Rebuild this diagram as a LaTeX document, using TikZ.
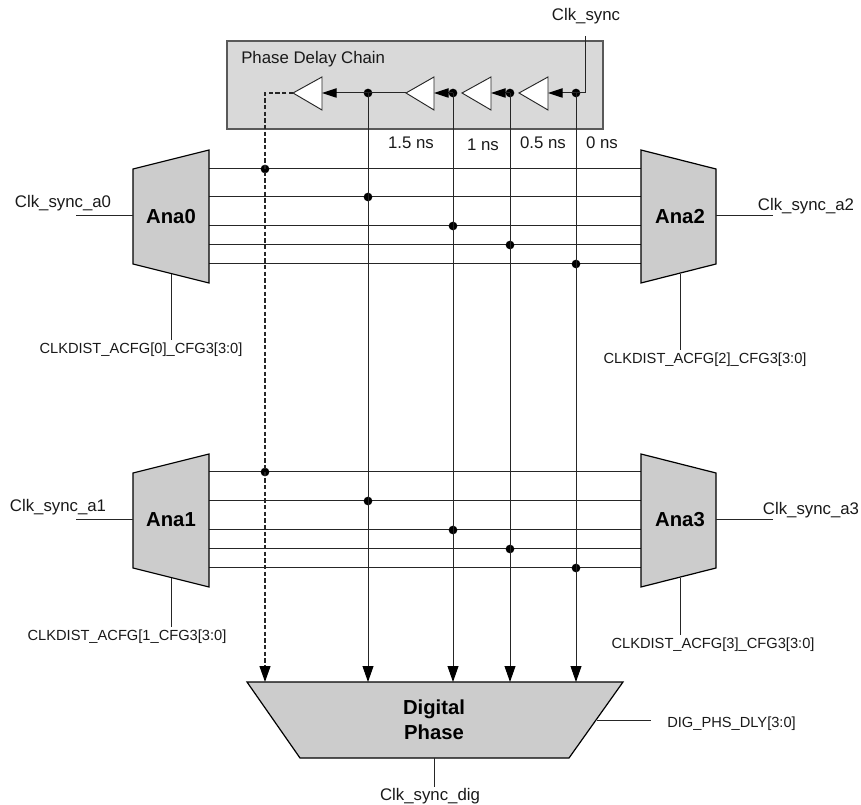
\documentclass[tikz,border=0pt]{standalone}
\usepackage{fontspec}
\setmainfont{Liberation Sans}
\usetikzlibrary{arrows.meta}
\tikzset{
  wire/.style={line width=0.75pt,black!85},
  dot/.style={circle,fill=black,inner sep=0pt,minimum size=6.5pt},
  lbl/.style={font=\fontsize{12.6}{15}\selectfont,inner sep=0pt,text=black!90},
  cfg/.style={font=\fontsize{11}{13}\selectfont,inner sep=0pt,text=black!90},
  muxbody/.style={fill=black!20,draw=black,line width=0.9pt},
  muxname/.style={font=\fontsize{15.2}{18.7}\selectfont\bfseries,inner sep=0pt,align=center},
  buf/.style={fill=white,draw=black!85,line width=0.7pt},
  feed/.style={wire,-{Triangle[length=12pt,width=8.2pt,color=black,fill=black]}},
  tap/.style={wire,-{Triangle[length=11pt,width=7pt,color=black,fill=black]}}
}
\begin{document}
\begin{tikzpicture}[x=0.75pt,y=-0.75pt]
\useasboundingbox (0,0) rectangle (861,805);
% delay chain box
\draw[fill=black!15,draw=black!65,line width=0.9pt] (227,41) rectangle (603,129);
\node[lbl,anchor=west] (chainname) at (241,59) {Phase Delay Chain};
% taps: index/x/y top/y bottom
\foreach \i/\xx/\ya/\yb in {0/265/169/472,1/368/197/501,2/453/226/530,3/510/245/549,4/576/264/568}{
  \coordinate (ana0out\i) at (209,\ya);
  \coordinate (ana2in\i) at (641,\ya);
  \coordinate (ana1out\i) at (209,\yb);
  \coordinate (ana3in\i) at (641,\yb);
  \coordinate (digin\i) at (\xx,682);
  \draw[wire] (ana0out\i) -- (ana2in\i);
  \draw[wire] (ana1out\i) -- (ana3in\i);
  \node[dot] (topdot\i) at (\xx,\ya) {};
  \node[dot] (botdot\i) at (\xx,\yb) {};
}
% buffers
\foreach \i/\tip/\base in {0/293/322,1/406/434,2/462/491,3/519/548}{
  \draw[buf] (\tip,93) coordinate (buftip\i) -- (\base,77) -- (\base,110) -- cycle;
  \coordinate (bufin\i) at (\base,93);
}
\foreach \i/\xx in {1/368,2/453,3/510,4/576}{
  \node[dot] (chain\i) at (\xx,93) {};
  \draw[feed] (chain\i.center) -- (digin\i);
}
\coordinate (chain0) at (265,93);
\draw[feed,dash pattern=on 3.2pt off 1.8pt,line width=1pt] (buftip0) -- (chain0) -- (digin0);
% chain wires
\coordinate (clkin) at (585,93);
\coordinate (clktop) at (585,36);
\draw[wire] (clktop) -- (clkin) -- (chain4.center);
\draw[tap] (chain4.center) -- (bufin3);
\draw[tap] (chain3.center) -- (bufin2);
\draw[tap] (chain2.center) -- (bufin1);
\draw[tap] (chain1.center) -- (bufin0);
\draw[wire] (chain1.center) -- (buftip1);
\node[lbl] (clksync) at (586,16) {Clk\_sync};
\node[lbl] (dly15) at (411,143) {1.5 ns};
\node[lbl] (dly10) at (483,145) {1 ns};
\node[lbl] (dly05) at (543,143) {0.5 ns};
\node[lbl] (dly00) at (602,143) {0 ns};
% analog muxes
\foreach \m/\lx/\rx/\ltop/\rtop/\lbot/\rbot/\cx/\cy/\stub/\edge/\ty/\name in {
  ana0/133/209/169/150/264/283/171/217/76/133/216/Ana0,
  ana2/641/716/150/169/283/264/680/217/773/716/216/Ana2,
  ana1/133/209/473/454/568/587/171/520/76/133/520/Ana1,
  ana3/641/716/454/473/587/568/680/520/773/716/520/Ana3}{
  \draw[muxbody] (\lx,\ltop) -- (\rx,\rtop) -- (\rx,\rbot) -- (\lx,\lbot) -- cycle;
  \node[muxname] (\m) at (\cx,\cy) {\name};
  \coordinate (\m stub) at (\stub,\ty);
  \coordinate (\m edge) at (\edge,\ty);
  \draw[wire] (\m stub) -- (\m edge);
}
\node[lbl] (clka0) at (63,203) {Clk\_sync\_a0};
\node[lbl] (clka2) at (806,206) {Clk\_sync\_a2};
\node[lbl] (clka1) at (58,507) {Clk\_sync\_a1};
\node[lbl] (clka3) at (811,510) {Clk\_sync\_a3};
\node[cfg] (cfg0) at (141,350) {CLKDIST\_ACFG[0]\_CFG3[3:0]};
\node[cfg] (cfg2) at (705,360) {CLKDIST\_ACFG[2]\_CFG3[3:0]};
\node[cfg] (cfg1) at (127,637) {CLKDIST\_ACFG[1\_CFG3[3:0]};
\node[cfg] (cfg3) at (713,645) {CLKDIST\_ACFG[3]\_CFG3[3:0]};
\coordinate (ana0sel) at (171,274);
\coordinate (ana2sel) at (680,274);
\coordinate (ana1sel) at (171,578);
\coordinate (ana3sel) at (680,578);
\coordinate (cfg0end) at (171,340);
\coordinate (cfg2end) at (680,350);
\coordinate (cfg1end) at (171,627);
\coordinate (cfg3end) at (680,635);
\draw[wire] (ana0sel) -- (cfg0end);
\draw[wire] (ana2sel) -- (cfg2end);
\draw[wire] (ana1sel) -- (cfg1end);
\draw[wire] (ana3sel) -- (cfg3end);
% digital mux
\draw[muxbody] (247,682) -- (623,682) -- (569,758) -- (300,758) -- cycle;
\node[muxname] (digital) at (434,719.5) {Digital\\Phase};
\coordinate (digout) at (434,758);
\coordinate (digsel) at (597,720);
\coordinate (phsend) at (651,720);
\coordinate (digend) at (434,787);
\node[lbl] (clkdig) at (430,796) {Clk\_sync\_dig};
\node[cfg,anchor=west] (phsdly) at (667,724) {DIG\_PHS\_DLY[3:0]};
\draw[wire] (digout) -- (digend);
\draw[wire] (digsel) -- (phsend);
\end{tikzpicture}
\end{document}
